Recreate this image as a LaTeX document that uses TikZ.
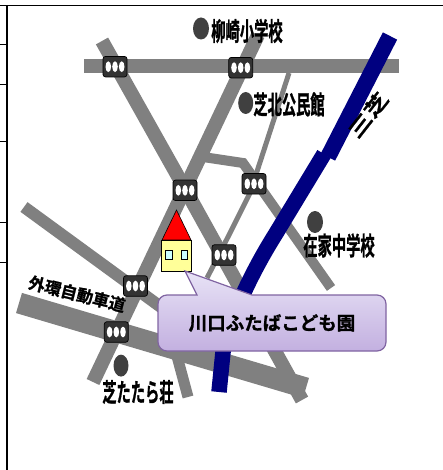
\documentclass[tikz,border=0pt]{standalone}
\usepackage{fontspec}
\setmainfont{Noto Sans CJK JP}
\newfontfamily\jpbold[FakeBold=1.2]{Noto Sans CJK JP Bold}
\definecolor{roadgray}{HTML}{808080}
\definecolor{navyroad}{HTML}{000080}
\definecolor{sigdark}{HTML}{333333}
\definecolor{dotdark}{HTML}{404040}
\definecolor{bubtop}{HTML}{E8E3F6}
\definecolor{bubbot}{HTML}{C3B0E0}
\definecolor{bubline}{HTML}{8064A2}
\definecolor{houseyellow}{HTML}{FFFF99}
\definecolor{windowcyan}{HTML}{CCFFFF}
\tikzset{
 x=1pt,y=-1pt,
 road/.style={draw=roadgray,line width=#1,line join=miter},
 road/.default=14pt,
 signalbox/.style={draw=black,fill=sigdark,rounded corners=2.5pt,line width=0.7pt,minimum width=24pt,minimum height=20.5pt,inner sep=0pt},
 lamp/.style={fill=white,draw=none},
 poi/.style={fill=dotdark,draw=none},
 windowbox/.style={draw=black,fill=windowcyan,line width=0.5pt,minimum width=6.5pt,minimum height=9pt,inner sep=0pt},
 lab/.style={inner sep=0pt,font=\jpbold\fontsize{25.5}{26}\selectfont,xscale=0.56,text=black},
 frameline/.style={draw=black,line width=1.4pt},
}
\newcommand{\signalat}[3]{%
 \node[signalbox] (#1) at (#2,#3) {};
 \fill[lamp] (#2-6.7,#3) ellipse (2.8 and 5.4);
 \fill[lamp] (#2,#3) ellipse (2.8 and 5.4);
 \fill[lamp] (#2+6.7,#3) ellipse (2.8 and 5.4);
}
\begin{document}
\begin{tikzpicture}
\useasboundingbox (0,0) rectangle (443,470);
\fill[white] (0,0) rectangle (443,470);
% frame
\draw[frameline] (0,5.5) -- (443,5.5);
\draw[frameline] (7,5.5) -- (7,470);
\foreach \yy in {45,85,142,222,262} \draw[black,line width=1pt] (0,\yy) -- (7,\yy);
% roads
\draw[road=21pt] (19,303) -- (306,388);
\draw[road=11pt] (174,345) -- (188,397);
\draw[road=12pt] (24,207) -- (165,310);
\draw[road=14pt] (102,41) -- (184,187) -- (302,400);
\draw[road=14pt] (258,35) -- (93,382);
\draw[road=14pt] (84,66) -- (399,66);
\draw[road=10pt] (203,157) -- (243,163) -- (331,288);
\draw[road=5pt] (289,73) -- (250,193) -- (230,233) -- (207,278);
% blue road
\draw[draw=navyroad,line width=16pt] (390,36) -- (328,157);
\draw[draw=navyroad,line width=15.5pt,line join=round] (324,154) -- (275,235) .. controls (258,262) and (232,310) .. (223,352) -- (219,392);
% signals
\signalat{s1}{115}{66.7}
\signalat{s2}{240.7}{67.7}
\signalat{s3}{185}{190.3}
\signalat{s4}{254}{183.8}
\signalat{s5}{224}{255}
\signalat{s6}{135.5}{286}
\signalat{s7}{116.3}{332}
% house
\coordinate (roofapex) at (176.5,210);
\coordinate (roofr) at (191,240);
\coordinate (roofl) at (162,240);
\fill[red,draw=black,line width=0.6pt] (roofapex) -- (roofr) -- (roofl) -- cycle;
\node[draw=black,fill=houseyellow,line width=0.7pt,minimum width=29.5pt,minimum height=31pt,inner sep=0pt] (house) at (176.5,255.5) {};
\node[windowbox] (w1) at (168.5,254.7) {};
\node[windowbox] (w2) at (184,254.7) {};
% bubble
\draw[draw=bubline,line width=1.2pt,top color=bubtop,bottom color=bubbot]
 (167,295) -- (197,295) -- (185,271) -- (252,295) -- (377,295)
 .. controls (382,295) and (386,299) .. (386,304) -- (386,342)
 .. controls (386,347) and (382,351) .. (377,351) -- (167,351)
 .. controls (162,351) and (158,347) .. (158,342) -- (158,304)
 .. controls (158,299) and (162,295) .. (167,295) -- cycle;
\node[inner sep=0pt,font=\jpbold\fontsize{18.5}{19}\selectfont] (title) at (272,323) {川口ふたばこども園};
% points of interest
\fill[poi] (201,28.5) ellipse (8 and 11);
\fill[poi] (245.7,103) ellipse (7.5 and 11);
\fill[poi] (315,222) ellipse (8 and 11);
\fill[poi] (121,365.6) ellipse (7.5 and 11);
\node[lab] (l1) at (247,31) {柳崎小学校};
\node[lab] (l2) at (289,104.5) {芝北公民館};
\node[lab] (l3) at (339,245.5) {在家中学校};
\node[lab] (l4) at (138,392) {芝たたら荘};
\node[inner sep=0pt,rotate=-14,font=\jpbold\fontsize{16.5}{17}\selectfont] (l5) at (77,294) {外環自動車道};
\node[inner sep=0pt,rotate=52,xscale=1.35,font=\jpbold\fontsize{19}{19}\selectfont] (l6) at (368,115) {三芝};
\end{tikzpicture}
\end{document}
